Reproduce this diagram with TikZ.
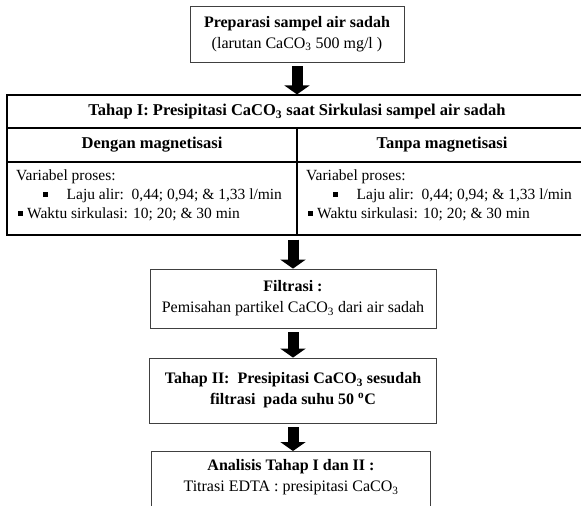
\documentclass[tikz,border=0pt]{standalone}
\usepackage{fontspec}
\setmainfont{Liberation Serif}
\usetikzlibrary{arrows.meta}

\tikzset{
  flowbox/.style={draw=black!75, line width=0.8pt, align=center, inner sep=0pt},
  cell/.style={draw=black, line width=1.2pt, inner sep=0pt},
  celltext/.style={anchor=base west, inner sep=0pt, font=\fontsize{15.5}{19}\selectfont},
  blockarr/.style={line width=11pt, -{Triangle[width=25pt,length=9pt]}},
}
\newcommand{\sqbul}{\raisebox{2.5pt}{\rule{4.5pt}{4.5pt}}}

\begin{document}
\begin{tikzpicture}[x=1pt, y=-1pt, font=\fontsize{16}{21}\selectfont]
  \useasboundingbox (0,0) rectangle (581,506);
  \clip (0,0) rectangle (581,506);
  % Preparasi
  \node[flowbox, minimum width=214pt, minimum height=56pt] (prep) at (297,34)
    {\textbf{Preparasi sampel air sadah}\\(larutan CaCO\textsubscript{3} 500 mg/l )};
  % Tahap I table
  \node[cell, minimum width=580pt, minimum height=33pt, font=\fontsize{16.5}{21}\selectfont\bfseries] (hdr) at (297,111.5)
    {Tahap I: Presipitasi CaCO\textsubscript{3} saat Sirkulasi sampel air sadah};
  \node[cell, minimum width=290pt, minimum height=34pt, font=\fontsize{16.5}{21}\selectfont\bfseries] (dengan) at (152,145) {Dengan magnetisasi};
  \node[cell, minimum width=290pt, minimum height=34pt, font=\fontsize{16.5}{21}\selectfont\bfseries] (tanpa) at (442,145) {Tanpa magnetisasi};
  \node[cell, minimum width=290pt, minimum height=73pt] (varL) at (152,198.5) {};
  \node[cell, minimum width=290pt, minimum height=73pt] (varR) at (442,198.5) {};
  \foreach \dx/\s in {0/L, 290/R} {
    \node[celltext] (proses\s) at (16+\dx,180) {Variabel proses:};
    \node[celltext] (laju\s) at (43+\dx,199) {\sqbul\hspace{19pt}Laju alir:\ \ 0,44; 0,94; \& 1,33 l/min};
    \node[celltext] (waktu\s) at (18+\dx,218) {\sqbul\hspace{4.5pt}Waktu sirkulasi: 10; 20; \& 30 min};
  }
  % Filtrasi
  \node[flowbox, minimum width=286pt, minimum height=59pt] (filt) at (293,298.5)
    {\textbf{Filtrasi :}\\Pemisahan partikel CaCO\textsubscript{3} dari air sadah};
  % Tahap II
  \node[flowbox, minimum width=287pt, minimum height=65pt, font=\fontsize{16}{21}\selectfont\bfseries] (tahap2) at (293,390.5)
    {Tahap II:\ \ Presipitasi CaCO\textsubscript{3} sesudah\\filtrasi\ \ pada suhu 50 \textsuperscript{o}C};
  % Analisis
  \node[flowbox, anchor=north, minimum width=279pt, inner ysep=8pt, text depth=30pt] (anal) at (291,451)
    {\textbf{Analisis Tahap I dan II :}\\Titrasi EDTA : presipitasi CaCO\textsubscript{3}};
  % Arrows
  \coordinate (tabbot) at (varL.south east -| filt.north);
  \draw[blockarr] ([yshift=-4pt]prep.south) -- (hdr.north);
  \draw[blockarr] ([yshift=-4pt]tabbot) -- (filt.north);
  \draw[blockarr] ([yshift=-4pt]filt.south) -- (tahap2.north);
  \draw[blockarr] ([yshift=-4pt]tahap2.south) -- (tahap2.south |- anal.north);
\end{tikzpicture}
\end{document}
